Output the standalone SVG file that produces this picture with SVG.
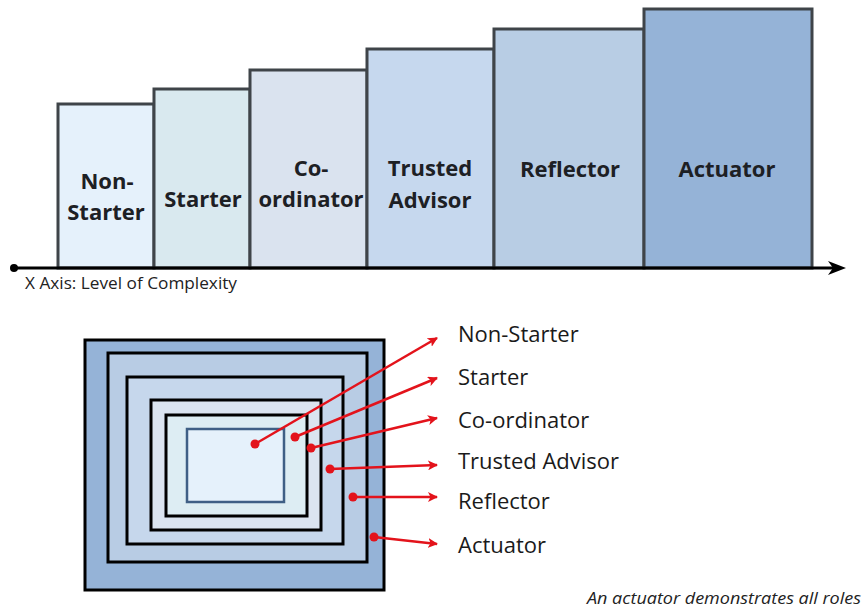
<svg xmlns="http://www.w3.org/2000/svg" width="862" height="609" viewBox="0 0 862 609">
<defs>
<marker id="redhead" viewBox="0 0 10 10" refX="9" refY="5" markerWidth="4" markerHeight="4" orient="auto" markerUnits="strokeWidth">
<path d="M0,0 L10,5 L0,10 L2.5,5 Z" fill="#e3131b"/>
</marker>
</defs>
<style>
.bar{stroke:#3f4449;stroke-width:3}
.bl{font-family:"Open Sans","Liberation Sans",sans-serif;font-weight:700;font-size:22px;fill:#1d2024;text-anchor:middle}
.ring{stroke:#000;stroke-width:3}
.lbl{font-family:"Open Sans","Liberation Sans",sans-serif;font-size:22px;fill:#1a1a1a}
.red{stroke:#e3131b;stroke-width:2.5;fill:none;marker-end:url(#redhead)}
.dot{fill:#e3131b}
</style>
<rect width="862" height="609" fill="#ffffff"/>

<g id="bar-nonstarter">
<rect class="bar" x="58" y="104" width="96" height="164" fill="#e5f1fb"/>
<text class="bl" x="107" y="189">Non-</text>
<text class="bl" x="106" y="220">Starter</text>
</g>
<g id="bar-starter">
<rect class="bar" x="154" y="89" width="96" height="179" fill="#d9e9ef"/>
<text class="bl" x="203" y="207">Starter</text>
</g>
<g id="bar-coordinator">
<rect class="bar" x="250" y="70" width="117" height="198" fill="#dae3ef"/>
<text class="bl" x="311" y="176">Co-</text>
<text class="bl" x="311" y="207">ordinator</text>
</g>
<g id="bar-trusted">
<rect class="bar" x="367" y="49" width="127" height="219" fill="#c6d8ee"/>
<text class="bl" x="430" y="176">Trusted</text>
<text class="bl" x="430" y="208">Advisor</text>
</g>
<g id="bar-reflector">
<rect class="bar" x="494" y="29" width="150" height="239" fill="#b8cde4"/>
<text class="bl" x="570" y="177">Reflector</text>
</g>
<g id="bar-actuator">
<rect class="bar" x="644" y="9" width="168" height="259" fill="#95b3d7"/>
<text class="bl" x="727" y="177">Actuator</text>
</g>

<g id="axis">
<line x1="14" y1="268" x2="836" y2="268" stroke="#000" stroke-width="3"/>
<circle cx="14" cy="268" r="4" fill="#000"/>
<path d="M846,268 L828,261 L833,268 L828,275 Z" fill="#000"/>
<text x="25" y="289" font-family="'Open Sans','Liberation Sans',sans-serif" font-size="17" fill="#222" textLength="212" lengthAdjust="spacingAndGlyphs">X Axis: Level of Complexity</text>
</g>

<g id="nested">
<rect class="ring" x="85" y="340" width="299" height="250" fill="#95b3d7"/>
<rect class="ring" x="108" y="353" width="259" height="209" fill="#b8cce4"/>
<rect class="ring" x="127" y="377" width="216" height="167" fill="#c6d7ec"/>
<rect class="ring" x="151" y="400" width="170" height="130" fill="#dbe4f0"/>
<rect class="ring" x="166" y="415" width="141" height="101" fill="#ddedf3"/>
<rect x="187" y="429" width="97" height="73" fill="#e5f1fb" stroke="#3f5f85" stroke-width="2.5"/>
</g>

<g id="connectors">
<line class="red" x1="255" y1="444" x2="437" y2="338"/>
<line class="red" x1="295" y1="437" x2="437" y2="378"/>
<line class="red" x1="311" y1="448" x2="437" y2="418"/>
<line class="red" x1="330" y1="469" x2="437" y2="465"/>
<line class="red" x1="353" y1="497" x2="437" y2="497"/>
<line class="red" x1="374" y1="537" x2="437" y2="544"/>
<circle class="dot" cx="255" cy="444" r="4.5"/>
<circle class="dot" cx="295" cy="437" r="4.5"/>
<circle class="dot" cx="311" cy="448" r="4.5"/>
<circle class="dot" cx="330" cy="469" r="4.5"/>
<circle class="dot" cx="353" cy="497" r="4.5"/>
<circle class="dot" cx="374" cy="537" r="4.5"/>
</g>

<g id="label-nonstarter"><text class="lbl" x="458" y="342">Non-Starter</text></g>
<g id="label-starter"><text class="lbl" x="458" y="385">Starter</text></g>
<g id="label-coordinator"><text class="lbl" x="458" y="428">Co-ordinator</text></g>
<g id="label-trusted"><text class="lbl" x="458" y="469">Trusted Advisor</text></g>
<g id="label-reflector"><text class="lbl" x="458" y="509">Reflector</text></g>
<g id="label-actuator"><text class="lbl" x="458" y="553">Actuator</text></g>

<g id="caption">
<text x="587" y="604" font-family="'Open Sans','Liberation Sans',sans-serif" font-style="italic" font-size="17" fill="#222" textLength="274" lengthAdjust="spacingAndGlyphs">An actuator demonstrates all roles</text>
</g>
</svg>
